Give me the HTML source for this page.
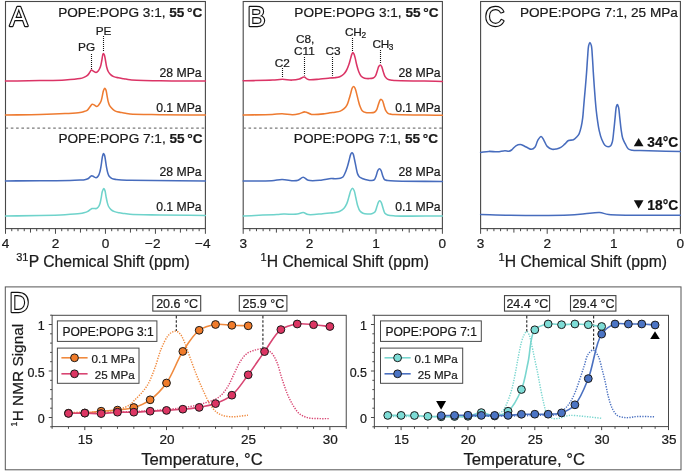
<!DOCTYPE html>
<html><head><meta charset="utf-8"><style>
html,body{margin:0;padding:0;background:#fff;width:685px;height:472px;overflow:hidden}
svg{display:block;will-change:transform;font-family:"Liberation Sans", sans-serif}
text:not(.ol){stroke:#1a1a1a;stroke-width:0.22px}
</style></head><body>
<svg width="685" height="472" viewBox="0 0 685 472">
<rect width="685" height="472" fill="#fff"/>
<rect x="5.5" y="1.5" width="199.9" height="227.1" fill="none" stroke="#484848" stroke-width="1.1"/>
<rect x="243.2" y="1.5" width="199.2" height="227.1" fill="none" stroke="#484848" stroke-width="1.1"/>
<rect x="480.6" y="1.5" width="199.8" height="227.1" fill="none" stroke="#484848" stroke-width="1.1"/>
<line x1="5.5" y1="228.6" x2="5.5" y2="233.8" stroke="#484848" stroke-width="1.0" />
<line x1="11.75" y1="228.6" x2="11.75" y2="231.2" stroke="#484848" stroke-width="1.0" />
<line x1="17.99" y1="228.6" x2="17.99" y2="231.2" stroke="#484848" stroke-width="1.0" />
<line x1="24.24" y1="228.6" x2="24.24" y2="231.2" stroke="#484848" stroke-width="1.0" />
<line x1="30.49" y1="228.6" x2="30.49" y2="232.6" stroke="#484848" stroke-width="1.0" />
<line x1="36.73" y1="228.6" x2="36.73" y2="231.2" stroke="#484848" stroke-width="1.0" />
<line x1="42.98" y1="228.6" x2="42.98" y2="231.2" stroke="#484848" stroke-width="1.0" />
<line x1="49.23" y1="228.6" x2="49.23" y2="231.2" stroke="#484848" stroke-width="1.0" />
<line x1="55.48" y1="228.6" x2="55.48" y2="233.8" stroke="#484848" stroke-width="1.0" />
<line x1="61.72" y1="228.6" x2="61.72" y2="231.2" stroke="#484848" stroke-width="1.0" />
<line x1="67.97" y1="228.6" x2="67.97" y2="231.2" stroke="#484848" stroke-width="1.0" />
<line x1="74.22" y1="228.6" x2="74.22" y2="231.2" stroke="#484848" stroke-width="1.0" />
<line x1="80.46" y1="228.6" x2="80.46" y2="232.6" stroke="#484848" stroke-width="1.0" />
<line x1="86.71" y1="228.6" x2="86.71" y2="231.2" stroke="#484848" stroke-width="1.0" />
<line x1="92.96" y1="228.6" x2="92.96" y2="231.2" stroke="#484848" stroke-width="1.0" />
<line x1="99.2" y1="228.6" x2="99.2" y2="231.2" stroke="#484848" stroke-width="1.0" />
<line x1="105.45" y1="228.6" x2="105.45" y2="233.8" stroke="#484848" stroke-width="1.0" />
<line x1="111.7" y1="228.6" x2="111.7" y2="231.2" stroke="#484848" stroke-width="1.0" />
<line x1="117.94" y1="228.6" x2="117.94" y2="231.2" stroke="#484848" stroke-width="1.0" />
<line x1="124.19" y1="228.6" x2="124.19" y2="231.2" stroke="#484848" stroke-width="1.0" />
<line x1="130.44" y1="228.6" x2="130.44" y2="232.6" stroke="#484848" stroke-width="1.0" />
<line x1="136.68" y1="228.6" x2="136.68" y2="231.2" stroke="#484848" stroke-width="1.0" />
<line x1="142.93" y1="228.6" x2="142.93" y2="231.2" stroke="#484848" stroke-width="1.0" />
<line x1="149.18" y1="228.6" x2="149.18" y2="231.2" stroke="#484848" stroke-width="1.0" />
<line x1="155.43" y1="228.6" x2="155.43" y2="233.8" stroke="#484848" stroke-width="1.0" />
<line x1="161.67" y1="228.6" x2="161.67" y2="231.2" stroke="#484848" stroke-width="1.0" />
<line x1="167.92" y1="228.6" x2="167.92" y2="231.2" stroke="#484848" stroke-width="1.0" />
<line x1="174.17" y1="228.6" x2="174.17" y2="231.2" stroke="#484848" stroke-width="1.0" />
<line x1="180.41" y1="228.6" x2="180.41" y2="232.6" stroke="#484848" stroke-width="1.0" />
<line x1="186.66" y1="228.6" x2="186.66" y2="231.2" stroke="#484848" stroke-width="1.0" />
<line x1="192.91" y1="228.6" x2="192.91" y2="231.2" stroke="#484848" stroke-width="1.0" />
<line x1="199.15" y1="228.6" x2="199.15" y2="231.2" stroke="#484848" stroke-width="1.0" />
<line x1="205.4" y1="228.6" x2="205.4" y2="233.8" stroke="#484848" stroke-width="1.0" />
<text x="5.5" y="247.7" font-size="13.6" text-anchor="middle" font-weight="normal" fill="#1a1a1a" >4</text>
<text x="55.48" y="247.7" font-size="13.6" text-anchor="middle" font-weight="normal" fill="#1a1a1a" >2</text>
<text x="105.45" y="247.7" font-size="13.6" text-anchor="middle" font-weight="normal" fill="#1a1a1a" >0</text>
<text x="152.73" y="247.7" font-size="13.6" text-anchor="middle" font-weight="normal" fill="#1a1a1a" >−2</text>
<text x="202.7" y="247.7" font-size="13.6" text-anchor="middle" font-weight="normal" fill="#1a1a1a" >−4</text>
<line x1="243.2" y1="228.6" x2="243.2" y2="233.8" stroke="#484848" stroke-width="1.0" />
<line x1="249.84" y1="228.6" x2="249.84" y2="231.2" stroke="#484848" stroke-width="1.0" />
<line x1="256.48" y1="228.6" x2="256.48" y2="231.2" stroke="#484848" stroke-width="1.0" />
<line x1="263.12" y1="228.6" x2="263.12" y2="231.2" stroke="#484848" stroke-width="1.0" />
<line x1="269.76" y1="228.6" x2="269.76" y2="231.2" stroke="#484848" stroke-width="1.0" />
<line x1="276.4" y1="228.6" x2="276.4" y2="232.6" stroke="#484848" stroke-width="1.0" />
<line x1="283.04" y1="228.6" x2="283.04" y2="231.2" stroke="#484848" stroke-width="1.0" />
<line x1="289.68" y1="228.6" x2="289.68" y2="231.2" stroke="#484848" stroke-width="1.0" />
<line x1="296.32" y1="228.6" x2="296.32" y2="231.2" stroke="#484848" stroke-width="1.0" />
<line x1="302.96" y1="228.6" x2="302.96" y2="231.2" stroke="#484848" stroke-width="1.0" />
<line x1="309.6" y1="228.6" x2="309.6" y2="233.8" stroke="#484848" stroke-width="1.0" />
<line x1="316.24" y1="228.6" x2="316.24" y2="231.2" stroke="#484848" stroke-width="1.0" />
<line x1="322.88" y1="228.6" x2="322.88" y2="231.2" stroke="#484848" stroke-width="1.0" />
<line x1="329.52" y1="228.6" x2="329.52" y2="231.2" stroke="#484848" stroke-width="1.0" />
<line x1="336.16" y1="228.6" x2="336.16" y2="231.2" stroke="#484848" stroke-width="1.0" />
<line x1="342.8" y1="228.6" x2="342.8" y2="232.6" stroke="#484848" stroke-width="1.0" />
<line x1="349.44" y1="228.6" x2="349.44" y2="231.2" stroke="#484848" stroke-width="1.0" />
<line x1="356.08" y1="228.6" x2="356.08" y2="231.2" stroke="#484848" stroke-width="1.0" />
<line x1="362.72" y1="228.6" x2="362.72" y2="231.2" stroke="#484848" stroke-width="1.0" />
<line x1="369.36" y1="228.6" x2="369.36" y2="231.2" stroke="#484848" stroke-width="1.0" />
<line x1="376" y1="228.6" x2="376" y2="233.8" stroke="#484848" stroke-width="1.0" />
<line x1="382.64" y1="228.6" x2="382.64" y2="231.2" stroke="#484848" stroke-width="1.0" />
<line x1="389.28" y1="228.6" x2="389.28" y2="231.2" stroke="#484848" stroke-width="1.0" />
<line x1="395.92" y1="228.6" x2="395.92" y2="231.2" stroke="#484848" stroke-width="1.0" />
<line x1="402.56" y1="228.6" x2="402.56" y2="231.2" stroke="#484848" stroke-width="1.0" />
<line x1="409.2" y1="228.6" x2="409.2" y2="232.6" stroke="#484848" stroke-width="1.0" />
<line x1="415.84" y1="228.6" x2="415.84" y2="231.2" stroke="#484848" stroke-width="1.0" />
<line x1="422.48" y1="228.6" x2="422.48" y2="231.2" stroke="#484848" stroke-width="1.0" />
<line x1="429.12" y1="228.6" x2="429.12" y2="231.2" stroke="#484848" stroke-width="1.0" />
<line x1="435.76" y1="228.6" x2="435.76" y2="231.2" stroke="#484848" stroke-width="1.0" />
<line x1="442.4" y1="228.6" x2="442.4" y2="233.8" stroke="#484848" stroke-width="1.0" />
<text x="243.2" y="247.7" font-size="13.6" text-anchor="middle" font-weight="normal" fill="#1a1a1a" >3</text>
<text x="309.6" y="247.7" font-size="13.6" text-anchor="middle" font-weight="normal" fill="#1a1a1a" >2</text>
<text x="376" y="247.7" font-size="13.6" text-anchor="middle" font-weight="normal" fill="#1a1a1a" >1</text>
<text x="442.4" y="247.7" font-size="13.6" text-anchor="middle" font-weight="normal" fill="#1a1a1a" >0</text>
<line x1="480.6" y1="228.6" x2="480.6" y2="233.8" stroke="#484848" stroke-width="1.0" />
<line x1="487.26" y1="228.6" x2="487.26" y2="231.2" stroke="#484848" stroke-width="1.0" />
<line x1="493.92" y1="228.6" x2="493.92" y2="231.2" stroke="#484848" stroke-width="1.0" />
<line x1="500.58" y1="228.6" x2="500.58" y2="231.2" stroke="#484848" stroke-width="1.0" />
<line x1="507.24" y1="228.6" x2="507.24" y2="231.2" stroke="#484848" stroke-width="1.0" />
<line x1="513.9" y1="228.6" x2="513.9" y2="232.6" stroke="#484848" stroke-width="1.0" />
<line x1="520.56" y1="228.6" x2="520.56" y2="231.2" stroke="#484848" stroke-width="1.0" />
<line x1="527.22" y1="228.6" x2="527.22" y2="231.2" stroke="#484848" stroke-width="1.0" />
<line x1="533.88" y1="228.6" x2="533.88" y2="231.2" stroke="#484848" stroke-width="1.0" />
<line x1="540.54" y1="228.6" x2="540.54" y2="231.2" stroke="#484848" stroke-width="1.0" />
<line x1="547.2" y1="228.6" x2="547.2" y2="233.8" stroke="#484848" stroke-width="1.0" />
<line x1="553.86" y1="228.6" x2="553.86" y2="231.2" stroke="#484848" stroke-width="1.0" />
<line x1="560.52" y1="228.6" x2="560.52" y2="231.2" stroke="#484848" stroke-width="1.0" />
<line x1="567.18" y1="228.6" x2="567.18" y2="231.2" stroke="#484848" stroke-width="1.0" />
<line x1="573.84" y1="228.6" x2="573.84" y2="231.2" stroke="#484848" stroke-width="1.0" />
<line x1="580.5" y1="228.6" x2="580.5" y2="232.6" stroke="#484848" stroke-width="1.0" />
<line x1="587.16" y1="228.6" x2="587.16" y2="231.2" stroke="#484848" stroke-width="1.0" />
<line x1="593.82" y1="228.6" x2="593.82" y2="231.2" stroke="#484848" stroke-width="1.0" />
<line x1="600.48" y1="228.6" x2="600.48" y2="231.2" stroke="#484848" stroke-width="1.0" />
<line x1="607.14" y1="228.6" x2="607.14" y2="231.2" stroke="#484848" stroke-width="1.0" />
<line x1="613.8" y1="228.6" x2="613.8" y2="233.8" stroke="#484848" stroke-width="1.0" />
<line x1="620.46" y1="228.6" x2="620.46" y2="231.2" stroke="#484848" stroke-width="1.0" />
<line x1="627.12" y1="228.6" x2="627.12" y2="231.2" stroke="#484848" stroke-width="1.0" />
<line x1="633.78" y1="228.6" x2="633.78" y2="231.2" stroke="#484848" stroke-width="1.0" />
<line x1="640.44" y1="228.6" x2="640.44" y2="231.2" stroke="#484848" stroke-width="1.0" />
<line x1="647.1" y1="228.6" x2="647.1" y2="232.6" stroke="#484848" stroke-width="1.0" />
<line x1="653.76" y1="228.6" x2="653.76" y2="231.2" stroke="#484848" stroke-width="1.0" />
<line x1="660.42" y1="228.6" x2="660.42" y2="231.2" stroke="#484848" stroke-width="1.0" />
<line x1="667.08" y1="228.6" x2="667.08" y2="231.2" stroke="#484848" stroke-width="1.0" />
<line x1="673.74" y1="228.6" x2="673.74" y2="231.2" stroke="#484848" stroke-width="1.0" />
<line x1="680.4" y1="228.6" x2="680.4" y2="233.8" stroke="#484848" stroke-width="1.0" />
<text x="480.6" y="247.7" font-size="13.6" text-anchor="middle" font-weight="normal" fill="#1a1a1a" >3</text>
<text x="547.2" y="247.7" font-size="13.6" text-anchor="middle" font-weight="normal" fill="#1a1a1a" >2</text>
<text x="613.8" y="247.7" font-size="13.6" text-anchor="middle" font-weight="normal" fill="#1a1a1a" >1</text>
<text x="680.4" y="247.7" font-size="13.6" text-anchor="middle" font-weight="normal" fill="#1a1a1a" >0</text>
<text x="16.2" y="266.9" font-size="15.7" fill="#1a1a1a"><tspan font-size="11" dy="-6">31</tspan><tspan dy="6" dx="0.3">P Chemical Shift (ppm)</tspan></text>
<text x="260.4" y="266.9" font-size="15.7" fill="#1a1a1a"><tspan font-size="11" dy="-6">1</tspan><tspan dy="6" dx="0.3">H Chemical Shift (ppm)</tspan></text>
<text x="498.4" y="266.9" font-size="15.7" fill="#1a1a1a"><tspan font-size="11" dy="-6">1</tspan><tspan dy="6" dx="0.3">H Chemical Shift (ppm)</tspan></text>
<text class="ol" x="9.8" y="25.5" font-size="27" fill="#fff" stroke="#111" stroke-width="2.3" paint-order="stroke" stroke-linejoin="round">A</text>
<text class="ol" x="247.4" y="26.1" font-size="27" fill="#fff" stroke="#111" stroke-width="2.3" paint-order="stroke" stroke-linejoin="round">B</text>
<text class="ol" x="485" y="25.8" font-size="27" fill="#fff" stroke="#111" stroke-width="2.3" paint-order="stroke" stroke-linejoin="round">C</text>
<text x="202.4" y="17.4" font-size="13.6" text-anchor="end" fill="#1a1a1a">POPE:POPG 3:1, <tspan font-weight="bold">55 °C</tspan></text>
<text x="202.6" y="143.3" font-size="13.6" text-anchor="end" fill="#1a1a1a">POPE:POPG 7:1, <tspan font-weight="bold">55 °C</tspan></text>
<text x="438.5" y="17.4" font-size="13.6" text-anchor="end" fill="#1a1a1a">POPE:POPG 3:1, <tspan font-weight="bold">55 °C</tspan></text>
<text x="438.0" y="143.3" font-size="13.6" text-anchor="end" fill="#1a1a1a">POPE:POPG 7:1, <tspan font-weight="bold">55 °C</tspan></text>
<text x="677.9" y="17.0" font-size="13.6" text-anchor="end" fill="#1a1a1a">POPE:POPG 7:1, 25 MPa</text>
<line x1="5.5" y1="128.1" x2="205.4" y2="128.1" stroke="#7a7a7a" stroke-width="1.3" stroke-dasharray="2.6 2.7"/>
<line x1="243.2" y1="128.1" x2="442.4" y2="128.1" stroke="#7a7a7a" stroke-width="1.3" stroke-dasharray="2.6 2.7"/>
<text x="201.6" y="77.3" font-size="12.2" text-anchor="end" font-weight="normal" fill="#1a1a1a" >28 MPa</text>
<text x="201.6" y="111.6" font-size="12.2" text-anchor="end" font-weight="normal" fill="#1a1a1a" >0.1 MPa</text>
<text x="201.6" y="176" font-size="12.2" text-anchor="end" font-weight="normal" fill="#1a1a1a" >28 MPa</text>
<text x="201.6" y="210.9" font-size="12.2" text-anchor="end" font-weight="normal" fill="#1a1a1a" >0.1 MPa</text>
<text x="440.6" y="77.3" font-size="12.2" text-anchor="end" font-weight="normal" fill="#1a1a1a" >28 MPa</text>
<text x="440.6" y="111.6" font-size="12.2" text-anchor="end" font-weight="normal" fill="#1a1a1a" >0.1 MPa</text>
<text x="440.6" y="176" font-size="12.2" text-anchor="end" font-weight="normal" fill="#1a1a1a" >28 MPa</text>
<text x="440.6" y="210.9" font-size="12.2" text-anchor="end" font-weight="normal" fill="#1a1a1a" >0.1 MPa</text>
<path d="M5.5,81.1 C17,80.93 29.42,80.8 40,80.6 C49,80.43 57.73,80.43 65,80 C70.64,79.67 76.65,79.27 80,78.6 C81.75,78.25 82.66,77.94 83.9,77.4 C85.13,76.87 86.41,76.26 87.4,75.4 C88.37,74.55 89.09,73.25 89.8,72.3 C90.39,71.51 90.77,70.25 91.4,70.1 C91.96,69.97 92.6,70.74 93.3,71.1 C94.14,71.53 95.24,72.59 96.1,72.5 C96.93,72.42 97.73,71.51 98.4,70.7 C99.22,69.71 99.86,68.29 100.4,66.8 C101.05,64.99 101.41,62.52 101.8,60.5 C102.16,58.64 102.33,56.35 102.7,55.1 C102.91,54.39 103.12,53.53 103.4,53.5 C103.66,53.47 104.03,54.11 104.3,54.7 C104.83,55.88 105.12,58.52 105.5,60.5 C105.89,62.55 106.11,64.87 106.6,66.8 C107.03,68.5 107.47,70.15 108.2,71.5 C108.85,72.7 109.67,73.74 110.6,74.6 C111.51,75.43 112.51,76.08 113.7,76.6 C115.06,77.19 116.76,77.46 118.4,77.8 C120.15,78.17 122.02,78.39 123.9,78.7 C125.88,79.02 127.18,79.42 130,79.7 C136.2,80.32 148.97,80.56 160,80.8 C173.57,81.09 190.27,81 205.4,81.1" fill="none" stroke="#db3466" stroke-width="1.55" stroke-linejoin="round" stroke-linecap="round"/>
<path d="M5.5,115 C17,114.83 29.43,114.77 40,114.5 C49,114.27 57.73,113.97 65,113.6 C70.64,113.31 76.64,113.14 80,112.6 C81.74,112.32 82.67,111.99 83.9,111.6 C85.03,111.24 86.16,111.08 87.1,110.4 C88.15,109.64 88.94,108.15 89.8,107.1 C90.6,106.13 91.27,104.55 92.1,104.3 C92.73,104.11 93.4,104.59 94.1,104.9 C94.95,105.27 95.96,106.59 96.8,106.5 C97.66,106.41 98.51,105.16 99.2,104.3 C99.92,103.4 100.51,102.4 101,101.2 C101.59,99.75 101.89,97.84 102.3,96.1 C102.72,94.3 102.99,92.01 103.5,90.6 C103.85,89.64 104.27,88.34 104.7,88.3 C105.07,88.26 105.57,89.09 105.9,89.8 C106.47,91.02 106.63,93.4 107,95.3 C107.4,97.33 107.68,99.72 108.2,101.6 C108.64,103.19 109.02,104.6 109.8,105.9 C110.58,107.21 111.8,108.45 112.9,109.4 C113.88,110.24 114.8,110.91 116,111.4 C117.38,111.97 119.21,112.08 120.8,112.4 C122.37,112.71 123.95,113.03 125.5,113.3 C127.01,113.56 127.83,113.81 130,114 C135.57,114.5 148.97,114.52 160,114.7 C173.57,114.92 190.27,114.97 205.4,115.1" fill="none" stroke="#ee7b31" stroke-width="1.55" stroke-linejoin="round" stroke-linecap="round"/>
<path d="M5.5,180.9 C17,180.87 28.9,180.85 40,180.8 C50.35,180.75 62.68,180.81 70,180.6 C74.23,180.48 77.29,180.28 80,180.1 C81.86,179.97 83.31,179.96 84.7,179.7 C85.85,179.49 86.92,179.26 87.8,178.8 C88.59,178.39 89.13,177.71 89.8,177.2 C90.46,176.71 91.12,175.87 91.8,175.8 C92.42,175.73 93.03,176.29 93.7,176.6 C94.46,176.95 95.34,177.9 96.1,177.8 C96.91,177.7 97.78,176.69 98.4,175.8 C99.16,174.71 99.56,173.09 100,171.5 C100.52,169.62 100.83,167.42 101.2,165.2 C101.61,162.74 101.85,159.52 102.3,157.4 C102.62,155.89 102.93,153.68 103.4,153.6 C103.72,153.54 104.2,154.4 104.5,155.1 C105.02,156.31 105.17,158.57 105.5,160.5 C105.87,162.7 106.19,165.39 106.6,167.6 C106.96,169.56 107.27,171.5 107.8,173.1 C108.24,174.42 108.64,175.67 109.4,176.6 C110.11,177.47 111.06,178.12 112.1,178.6 C113.23,179.12 114.58,179.26 116,179.5 C117.67,179.78 119.46,179.97 121.5,180.1 C124.02,180.27 125.76,180.23 130,180.3 C142.63,180.5 180.27,180.7 205.4,180.9" fill="none" stroke="#476cbd" stroke-width="1.55" stroke-linejoin="round" stroke-linecap="round"/>
<path d="M5.5,216 C17,215.83 29.42,215.75 40,215.5 C49,215.29 57.73,215.08 65,214.7 C70.64,214.4 76.63,214.07 80,213.6 C81.73,213.36 82.61,213.16 83.9,212.8 C85.21,212.43 86.69,212 87.8,211.4 C88.74,210.89 89.43,210.11 90.2,209.6 C90.86,209.17 91.43,208.68 92.1,208.5 C92.74,208.33 93.4,208.5 94.1,208.5 C94.86,208.5 95.79,208.76 96.5,208.5 C97.22,208.24 97.86,207.61 98.4,206.9 C99.07,206.01 99.56,204.72 100,203.4 C100.53,201.8 100.83,199.8 101.2,197.9 C101.6,195.88 101.77,193.29 102.3,191.6 C102.68,190.39 103.22,188.64 103.7,188.6 C104.09,188.57 104.57,189.58 104.9,190.4 C105.45,191.76 105.61,194.3 106,196.3 C106.41,198.37 106.81,200.76 107.3,202.6 C107.69,204.07 107.97,205.32 108.6,206.5 C109.21,207.65 110.03,208.75 111,209.6 C111.99,210.46 113.21,211.08 114.5,211.6 C115.92,212.17 117.56,212.47 119.2,212.8 C120.95,213.15 122.88,213.35 124.7,213.6 C126.48,213.85 127.5,214.11 130,214.3 C135.91,214.76 148.97,214.81 160,215 C173.57,215.23 190.27,215.33 205.4,215.5" fill="none" stroke="#6fd3cb" stroke-width="1.55" stroke-linejoin="round" stroke-linecap="round"/>
<path d="M243.2,80.8 C253.03,80.57 265.56,80.48 272.7,80.1 C276.78,79.88 279.09,79.3 282.3,79.3 C285.52,79.3 288.99,80.2 292,80.1 C294.64,80.01 297.24,79.59 299.4,79 C301.18,78.52 302.6,76.99 304.1,77.1 C305.57,77.21 306.45,79.14 308.3,79.6 C311.18,80.32 316.43,79.29 320.2,79 C323.63,78.74 327.28,78.22 330,78 C331.94,77.84 333.36,77.92 335,77.7 C336.62,77.48 338.34,77.29 339.8,76.7 C341.2,76.14 342.51,75.32 343.6,74.3 C344.72,73.26 345.58,71.95 346.4,70.5 C347.34,68.84 348.1,66.8 348.8,64.8 C349.54,62.68 350.12,60.08 350.7,58.1 C351.17,56.51 351.51,54.76 352,53.8 C352.28,53.24 352.59,52.61 352.9,52.6 C353.22,52.59 353.6,53.23 353.9,53.8 C354.42,54.76 354.78,56.5 355.2,58.1 C355.72,60.08 356.12,62.58 356.7,64.8 C357.29,67.04 357.88,69.5 358.7,71.5 C359.42,73.24 360.11,75.06 361.2,76.2 C362.14,77.18 363.32,77.79 364.6,78.2 C366,78.64 367.81,78.65 369.3,78.6 C370.66,78.55 372.14,78.52 373.2,78 C374.16,77.53 374.86,76.79 375.5,75.8 C376.35,74.49 376.81,72.18 377.4,70.5 C377.93,68.99 378.26,67.14 378.9,66.2 C379.31,65.6 379.85,64.96 380.3,65 C380.79,65.04 381.29,65.94 381.7,66.7 C382.32,67.85 382.65,69.87 383.2,71.5 C383.78,73.21 384.25,75.37 385.1,76.7 C385.77,77.74 386.47,78.51 387.5,79.1 C388.73,79.8 390.83,80.08 392.2,80.3 C393.25,80.47 393.5,80.43 395,80.5 C401.18,80.78 426.6,81.1 442.4,81.4" fill="none" stroke="#db3466" stroke-width="1.55" stroke-linejoin="round" stroke-linecap="round"/>
<path d="M243.2,115.1 C252.87,114.87 265.07,114.74 272.2,114.4 C276.37,114.2 278.75,113.66 282.1,113.7 C285.55,113.74 289.51,114.79 292.6,114.7 C295.06,114.63 297.09,114.18 299.2,113.7 C301.21,113.24 303.01,111.84 305,111.9 C307.14,111.97 308.97,113.99 311.6,114.4 C315.2,114.96 321.42,114.08 324.8,113.7 C326.94,113.46 328.28,113.05 330,112.8 C331.68,112.55 333.31,112.48 335,112.2 C336.75,111.91 338.76,111.72 340.3,111.1 C341.64,110.56 342.74,109.81 343.8,108.9 C344.92,107.93 345.97,106.82 346.8,105.4 C347.78,103.72 348.33,101.35 349,99.3 C349.67,97.25 350.23,95.08 350.8,93.1 C351.32,91.29 351.65,89.01 352.3,87.9 C352.68,87.25 353.16,86.59 353.6,86.6 C354.06,86.61 354.59,87.39 355,88.1 C355.65,89.23 356.01,91.29 356.5,93.1 C357.08,95.23 357.6,97.84 358.2,100.1 C358.77,102.24 359.27,104.44 360,106.3 C360.64,107.92 361.17,109.63 362.2,110.7 C363.13,111.66 364.43,112.25 365.7,112.6 C367.02,112.97 368.56,112.86 370,112.8 C371.46,112.73 373.26,112.8 374.4,112.2 C375.37,111.69 375.99,110.84 376.6,109.8 C377.41,108.44 377.79,106.18 378.4,104.5 C378.96,102.96 379.45,100.9 380.1,100.1 C380.44,99.68 380.83,99.37 381.2,99.4 C381.63,99.44 382.12,100 382.5,100.6 C383.14,101.62 383.47,103.76 384,105.4 C384.56,107.13 385.01,109.3 385.8,110.7 C386.42,111.79 387.1,112.72 388,113.3 C388.88,113.87 390,114 391.1,114.2 C392.31,114.42 392.98,114.41 395,114.5 C402.04,114.83 426.6,115.03 442.4,115.3" fill="none" stroke="#ee7b31" stroke-width="1.55" stroke-linejoin="round" stroke-linecap="round"/>
<path d="M243.2,181 C252.73,180.9 264.68,181.15 271.8,180.7 C276.07,180.43 278.47,179.53 282,179.5 C285.79,179.47 290.84,180.72 293.8,180.7 C295.59,180.69 296.65,180.67 298.1,180.2 C299.78,179.65 301.5,177.29 303.2,177.3 C304.9,177.31 306.12,179.71 308.3,180.3 C311.5,181.16 317.02,180.53 321,180.2 C324.57,179.9 328.51,178.77 331.1,178.6 C332.7,178.49 333.6,178.73 335,178.7 C336.63,178.66 338.88,178.69 340.3,178.3 C341.35,178.01 342.16,177.71 342.9,177 C343.83,176.11 344.42,174.5 345.1,173 C345.91,171.21 346.65,168.95 347.3,166.9 C347.95,164.88 348.43,162.87 349,160.8 C349.59,158.64 350.13,155.58 350.8,154.2 C351.15,153.48 351.5,152.74 351.9,152.7 C352.27,152.66 352.76,153.22 353.1,153.8 C353.72,154.84 353.97,157.08 354.4,159 C354.93,161.35 355.45,164.35 356,166.9 C356.52,169.31 356.86,172.08 357.6,173.9 C358.13,175.19 358.62,176.21 359.5,177 C360.41,177.82 361.75,178.21 363,178.7 C364.36,179.23 365.92,179.7 367.4,180 C368.85,180.3 370.54,180.64 371.8,180.5 C372.79,180.39 373.71,180.23 374.4,179.6 C375.27,178.81 375.65,177.12 376.2,175.7 C376.83,174.09 377.17,171.6 377.9,170.4 C378.37,169.64 378.98,168.79 379.5,168.8 C380.01,168.81 380.56,169.64 381,170.4 C381.71,171.6 382.07,174.09 382.7,175.7 C383.25,177.12 383.58,178.81 384.5,179.6 C385.3,180.28 386.33,180.27 387.6,180.5 C389.52,180.85 391.46,180.95 395,181.1 C403.95,181.49 426.6,181.3 442.4,181.4" fill="none" stroke="#476cbd" stroke-width="1.55" stroke-linejoin="round" stroke-linecap="round"/>
<path d="M243.2,215.9 C254.43,215.47 269.94,214.99 276.9,214.6 C280.03,214.42 281.05,214.2 283.7,214.1 C287.43,213.96 293.62,214.57 297.2,214.1 C299.63,213.78 301.3,212.38 303.2,212.5 C304.99,212.62 306.12,214.24 308.3,214.6 C311.83,215.18 318.71,214.02 322.7,213.7 C325.54,213.47 327.8,213.19 330,213 C331.82,212.84 333.4,212.86 335,212.6 C336.52,212.35 337.99,212.13 339.4,211.5 C340.93,210.81 342.58,209.78 343.8,208.5 C345.07,207.17 345.96,205.44 346.8,203.6 C347.74,201.53 348.31,198.86 349,196.6 C349.64,194.5 350.05,191.98 350.8,190.5 C351.3,189.52 351.95,188.29 352.5,188.3 C353.05,188.31 353.64,189.5 354.1,190.5 C354.85,192.13 355.23,195.09 355.8,197.5 C356.4,200.05 356.83,203.01 357.6,205.4 C358.27,207.49 358.92,209.74 360,211.1 C360.83,212.16 361.84,212.82 363,213.3 C364.27,213.83 365.93,213.93 367.4,214 C368.86,214.07 370.5,214.08 371.8,213.7 C372.97,213.36 374.08,212.95 374.9,212 C375.97,210.76 376.35,208.08 377,206.3 C377.57,204.74 377.98,202.84 378.6,201.9 C378.97,201.35 379.39,200.78 379.8,200.8 C380.26,200.82 380.78,201.57 381.2,202.3 C381.92,203.54 382.37,206.14 383,208 C383.61,209.8 383.95,212.11 384.9,213.3 C385.62,214.19 386.42,214.58 387.6,215 C389.41,215.64 391.45,215.68 395,215.9 C403.94,216.45 426.6,215.97 442.4,216" fill="none" stroke="#6fd3cb" stroke-width="1.55" stroke-linejoin="round" stroke-linecap="round"/>
<path d="M480.6,152.4 C483.33,152.07 486.02,151.5 488.8,151.4 C491.65,151.29 494.71,151.94 497.5,151.8 C500.1,151.67 502.92,150.69 505,150.7 C506.48,150.71 507.65,151.46 508.8,151.3 C509.83,151.16 510.63,150.67 511.6,150 C512.96,149.06 514.34,146.72 515.9,145.8 C517.27,145 518.89,144.44 520.3,144.5 C521.65,144.55 522.93,145.42 524.2,146 C525.49,146.59 526.76,147.43 528,148 C529.12,148.52 530.19,149.4 531.3,149.3 C532.55,149.18 534.08,148.12 535.1,146.9 C536.39,145.36 536.68,142.12 537.8,140.3 C538.74,138.77 540.07,136.46 541.1,136.5 C542.1,136.54 542.98,138.85 543.9,140.3 C545.02,142.06 545.73,144.87 547.2,146.4 C548.53,147.78 550.45,148.93 552.1,149.3 C553.55,149.63 555.06,149.21 556.5,148.9 C557.96,148.58 559.46,148.15 560.8,147.4 C562.21,146.61 563.43,145.33 564.7,144.2 C566,143.04 567.02,141.23 568.5,140.5 C569.93,139.8 572,140.43 573.4,139.8 C574.71,139.21 575.74,138.02 576.7,137 C577.63,136.02 578.42,135.15 579.1,133.8 C580.02,131.98 580.62,129.29 581.2,126.8 C581.85,124.03 582.31,120.99 582.7,117.9 C583.12,114.58 583.31,110.89 583.6,107.5 C583.88,104.26 584.11,101.28 584.4,98 C584.71,94.47 585.06,90.95 585.4,87 C585.79,82.41 586.23,77.06 586.6,72.1 C586.97,67.16 587.23,61.96 587.6,57.3 C587.93,53.12 588.07,48.02 588.7,45.4 C589.03,44.04 589.47,42.41 589.9,42.4 C590.34,42.39 590.93,44.02 591.3,45.4 C592.01,48.01 592.08,53.11 592.4,57.3 C592.76,61.96 592.98,67.16 593.3,72.1 C593.62,77.06 593.96,82.18 594.3,87 C594.62,91.56 594.95,96.11 595.3,100.3 C595.62,104.06 595.92,107.55 596.3,111 C596.66,114.24 597.03,117.21 597.5,120.4 C597.99,123.74 598.45,127.34 599.2,130.6 C599.91,133.69 600.73,136.91 601.8,139.5 C602.69,141.66 603.64,143.98 604.9,145.2 C605.84,146.11 607.08,146.75 608.1,146.8 C609,146.84 610.03,146.45 610.7,145.8 C611.52,145.01 611.85,143.64 612.3,142 C613.04,139.25 613.34,134.51 613.8,130.6 C614.28,126.48 614.66,122.03 615.1,117.9 C615.52,113.97 615.73,108.58 616.4,106.4 C616.69,105.46 617.07,104.49 617.4,104.5 C617.77,104.52 618.18,105.91 618.5,107.1 C619.12,109.44 619.37,114.25 619.8,117.9 C620.24,121.65 620.58,125.74 621.1,129.3 C621.56,132.46 621.89,135.61 622.7,138.2 C623.37,140.36 624.34,142.08 625.3,143.9 C626.24,145.68 627.08,147.94 628.4,149 C629.5,149.88 630.76,150.02 632.3,150.3 C634.41,150.69 636.43,150.49 640,150.6 C648.18,150.85 666.93,151.2 680.4,151.5" fill="none" stroke="#476cbd" stroke-width="1.55" stroke-linejoin="round" stroke-linecap="round"/>
<path d="M480.6,214.5 C490.37,214.77 498.4,215.17 509.9,215.3 C526.33,215.48 556.49,215.61 569.8,215 C576.47,214.69 579.81,214.12 584.8,213.7 C589.77,213.28 595.38,212.2 599.7,212.5 C603.1,212.74 604.23,213.98 608.7,214.5 C621.17,215.94 656.5,215.03 680.4,215.3" fill="none" stroke="#476cbd" stroke-width="1.55" stroke-linejoin="round" stroke-linecap="round"/>
<text x="103.5" y="34.6" font-size="11.8" text-anchor="middle" font-weight="normal" fill="#1a1a1a" >PE</text>
<line x1="103.5" y1="36" x2="103.5" y2="51.5" stroke="#111" stroke-width="1.1" stroke-dasharray="1 1"/>
<text x="86.6" y="51" font-size="11.8" text-anchor="middle" font-weight="normal" fill="#1a1a1a" >PG</text>
<line x1="91.5" y1="54" x2="91.5" y2="69" stroke="#111" stroke-width="1.1" stroke-dasharray="1 1"/>
<text x="282.2" y="66.7" font-size="11.8" text-anchor="middle" font-weight="normal" fill="#1a1a1a" >C2</text>
<line x1="282.5" y1="68" x2="282.5" y2="78" stroke="#111" stroke-width="1.1" stroke-dasharray="1 1"/>
<text x="305.2" y="43" font-size="11.8" text-anchor="middle" font-weight="normal" fill="#1a1a1a" >C8,</text>
<text x="304.4" y="55.2" font-size="11.8" text-anchor="middle" font-weight="normal" fill="#1a1a1a" >C11</text>
<line x1="304.5" y1="57" x2="304.5" y2="75.6" stroke="#111" stroke-width="1.1" stroke-dasharray="1 1"/>
<text x="333" y="55.2" font-size="11.8" text-anchor="middle" font-weight="normal" fill="#1a1a1a" >C3</text>
<line x1="332.5" y1="57" x2="332.5" y2="75.8" stroke="#111" stroke-width="1.1" stroke-dasharray="1 1"/>
<text x="345.1" y="36.1" font-size="11.8" fill="#1a1a1a" letter-spacing="-0.35">CH<tspan font-size="8.3" dy="2.2">2</tspan></text>
<line x1="352.5" y1="38" x2="352.5" y2="51.2" stroke="#111" stroke-width="1.1" stroke-dasharray="1 1"/>
<text x="372.5" y="48.0" font-size="11.8" fill="#1a1a1a" letter-spacing="-0.35">CH<tspan font-size="8.3" dy="2.2">3</tspan></text>
<line x1="380.5" y1="50" x2="380.5" y2="63.6" stroke="#111" stroke-width="1.1" stroke-dasharray="1 1"/>
<path d="M633.8,146.3 L638.65,138.1 L643.5,146.3 Z" fill="#111"/>
<text x="678.2" y="147" font-size="13.8" text-anchor="end" font-weight="bold" fill="#111" >34°C</text>
<path d="M633.8,200.3 L638.65,208.7 L643.5,200.3 Z" fill="#111"/>
<text x="678.2" y="209.5" font-size="13.8" text-anchor="end" font-weight="bold" fill="#111" >18°C</text>
<rect x="5.3" y="286.9" width="675.7" height="182.9" fill="none" stroke="#555" stroke-width="1.0"/>
<text class="ol" x="9.5" y="312.2" font-size="27" fill="#fff" stroke="#111" stroke-width="2.3" paint-order="stroke" stroke-linejoin="round">D</text>
<rect x="52.12" y="315.3" width="294.12" height="111.3" fill="none" stroke="#484848" stroke-width="1.0"/>
<line x1="50.12" y1="426.8" x2="52.12" y2="426.8" stroke="#484848" stroke-width="1.0" />
<line x1="48.72" y1="417.5" x2="52.12" y2="417.5" stroke="#484848" stroke-width="1.0" />
<line x1="50.12" y1="408.2" x2="52.12" y2="408.2" stroke="#484848" stroke-width="1.0" />
<line x1="50.12" y1="398.9" x2="52.12" y2="398.9" stroke="#484848" stroke-width="1.0" />
<line x1="50.12" y1="389.6" x2="52.12" y2="389.6" stroke="#484848" stroke-width="1.0" />
<line x1="50.12" y1="380.3" x2="52.12" y2="380.3" stroke="#484848" stroke-width="1.0" />
<line x1="48.72" y1="371" x2="52.12" y2="371" stroke="#484848" stroke-width="1.0" />
<line x1="50.12" y1="361.7" x2="52.12" y2="361.7" stroke="#484848" stroke-width="1.0" />
<line x1="50.12" y1="352.4" x2="52.12" y2="352.4" stroke="#484848" stroke-width="1.0" />
<line x1="50.12" y1="343.1" x2="52.12" y2="343.1" stroke="#484848" stroke-width="1.0" />
<line x1="50.12" y1="333.8" x2="52.12" y2="333.8" stroke="#484848" stroke-width="1.0" />
<line x1="48.72" y1="324.5" x2="52.12" y2="324.5" stroke="#484848" stroke-width="1.0" />
<line x1="50.12" y1="315.2" x2="52.12" y2="315.2" stroke="#484848" stroke-width="1.0" />
<line x1="52.12" y1="426.6" x2="52.12" y2="428.8" stroke="#484848" stroke-width="1.0" />
<line x1="68.46" y1="426.6" x2="68.46" y2="428.8" stroke="#484848" stroke-width="1.0" />
<line x1="84.8" y1="426.6" x2="84.8" y2="430.1" stroke="#484848" stroke-width="1.0" />
<line x1="101.14" y1="426.6" x2="101.14" y2="428.8" stroke="#484848" stroke-width="1.0" />
<line x1="117.48" y1="426.6" x2="117.48" y2="428.8" stroke="#484848" stroke-width="1.0" />
<line x1="133.82" y1="426.6" x2="133.82" y2="428.8" stroke="#484848" stroke-width="1.0" />
<line x1="150.16" y1="426.6" x2="150.16" y2="428.8" stroke="#484848" stroke-width="1.0" />
<line x1="166.5" y1="426.6" x2="166.5" y2="430.1" stroke="#484848" stroke-width="1.0" />
<line x1="182.84" y1="426.6" x2="182.84" y2="428.8" stroke="#484848" stroke-width="1.0" />
<line x1="199.18" y1="426.6" x2="199.18" y2="428.8" stroke="#484848" stroke-width="1.0" />
<line x1="215.52" y1="426.6" x2="215.52" y2="428.8" stroke="#484848" stroke-width="1.0" />
<line x1="231.86" y1="426.6" x2="231.86" y2="428.8" stroke="#484848" stroke-width="1.0" />
<line x1="248.2" y1="426.6" x2="248.2" y2="430.1" stroke="#484848" stroke-width="1.0" />
<line x1="264.54" y1="426.6" x2="264.54" y2="428.8" stroke="#484848" stroke-width="1.0" />
<line x1="280.88" y1="426.6" x2="280.88" y2="428.8" stroke="#484848" stroke-width="1.0" />
<line x1="297.22" y1="426.6" x2="297.22" y2="428.8" stroke="#484848" stroke-width="1.0" />
<line x1="313.56" y1="426.6" x2="313.56" y2="428.8" stroke="#484848" stroke-width="1.0" />
<line x1="329.9" y1="426.6" x2="329.9" y2="430.1" stroke="#484848" stroke-width="1.0" />
<line x1="346.24" y1="426.6" x2="346.24" y2="428.8" stroke="#484848" stroke-width="1.0" />
<text x="85.2" y="444.2" font-size="13.5" text-anchor="middle" font-weight="normal" fill="#1a1a1a" >15</text>
<text x="166.9" y="444.2" font-size="13.5" text-anchor="middle" font-weight="normal" fill="#1a1a1a" >20</text>
<text x="248.6" y="444.2" font-size="13.5" text-anchor="middle" font-weight="normal" fill="#1a1a1a" >25</text>
<text x="330.3" y="444.2" font-size="13.5" text-anchor="middle" font-weight="normal" fill="#1a1a1a" >30</text>
<text x="44.82" y="330" font-size="12.5" text-anchor="end" font-weight="normal" fill="#1a1a1a" >1</text>
<text x="44.82" y="376.5" font-size="12.5" text-anchor="end" font-weight="normal" fill="#1a1a1a" >0.5</text>
<text x="44.82" y="423" font-size="12.5" text-anchor="end" font-weight="normal" fill="#1a1a1a" >0</text>
<text x="201.98" y="464.6" font-size="16.7" text-anchor="middle" font-weight="normal" fill="#1a1a1a" >Temperature, °C</text>
<rect x="374.36" y="315.3" width="294.14" height="111.3" fill="none" stroke="#484848" stroke-width="1.0"/>
<line x1="372.36" y1="426.8" x2="374.36" y2="426.8" stroke="#484848" stroke-width="1.0" />
<line x1="370.96" y1="417.5" x2="374.36" y2="417.5" stroke="#484848" stroke-width="1.0" />
<line x1="372.36" y1="408.2" x2="374.36" y2="408.2" stroke="#484848" stroke-width="1.0" />
<line x1="372.36" y1="398.9" x2="374.36" y2="398.9" stroke="#484848" stroke-width="1.0" />
<line x1="372.36" y1="389.6" x2="374.36" y2="389.6" stroke="#484848" stroke-width="1.0" />
<line x1="372.36" y1="380.3" x2="374.36" y2="380.3" stroke="#484848" stroke-width="1.0" />
<line x1="370.96" y1="371" x2="374.36" y2="371" stroke="#484848" stroke-width="1.0" />
<line x1="372.36" y1="361.7" x2="374.36" y2="361.7" stroke="#484848" stroke-width="1.0" />
<line x1="372.36" y1="352.4" x2="374.36" y2="352.4" stroke="#484848" stroke-width="1.0" />
<line x1="372.36" y1="343.1" x2="374.36" y2="343.1" stroke="#484848" stroke-width="1.0" />
<line x1="372.36" y1="333.8" x2="374.36" y2="333.8" stroke="#484848" stroke-width="1.0" />
<line x1="370.96" y1="324.5" x2="374.36" y2="324.5" stroke="#484848" stroke-width="1.0" />
<line x1="372.36" y1="315.2" x2="374.36" y2="315.2" stroke="#484848" stroke-width="1.0" />
<line x1="374.36" y1="426.6" x2="374.36" y2="428.8" stroke="#484848" stroke-width="1.0" />
<line x1="387.73" y1="426.6" x2="387.73" y2="428.8" stroke="#484848" stroke-width="1.0" />
<line x1="401.1" y1="426.6" x2="401.1" y2="430.1" stroke="#484848" stroke-width="1.0" />
<line x1="414.47" y1="426.6" x2="414.47" y2="428.8" stroke="#484848" stroke-width="1.0" />
<line x1="427.84" y1="426.6" x2="427.84" y2="428.8" stroke="#484848" stroke-width="1.0" />
<line x1="441.21" y1="426.6" x2="441.21" y2="428.8" stroke="#484848" stroke-width="1.0" />
<line x1="454.58" y1="426.6" x2="454.58" y2="428.8" stroke="#484848" stroke-width="1.0" />
<line x1="467.95" y1="426.6" x2="467.95" y2="430.1" stroke="#484848" stroke-width="1.0" />
<line x1="481.32" y1="426.6" x2="481.32" y2="428.8" stroke="#484848" stroke-width="1.0" />
<line x1="494.69" y1="426.6" x2="494.69" y2="428.8" stroke="#484848" stroke-width="1.0" />
<line x1="508.06" y1="426.6" x2="508.06" y2="428.8" stroke="#484848" stroke-width="1.0" />
<line x1="521.43" y1="426.6" x2="521.43" y2="428.8" stroke="#484848" stroke-width="1.0" />
<line x1="534.8" y1="426.6" x2="534.8" y2="430.1" stroke="#484848" stroke-width="1.0" />
<line x1="548.17" y1="426.6" x2="548.17" y2="428.8" stroke="#484848" stroke-width="1.0" />
<line x1="561.54" y1="426.6" x2="561.54" y2="428.8" stroke="#484848" stroke-width="1.0" />
<line x1="574.91" y1="426.6" x2="574.91" y2="428.8" stroke="#484848" stroke-width="1.0" />
<line x1="588.28" y1="426.6" x2="588.28" y2="428.8" stroke="#484848" stroke-width="1.0" />
<line x1="601.65" y1="426.6" x2="601.65" y2="430.1" stroke="#484848" stroke-width="1.0" />
<line x1="615.02" y1="426.6" x2="615.02" y2="428.8" stroke="#484848" stroke-width="1.0" />
<line x1="628.39" y1="426.6" x2="628.39" y2="428.8" stroke="#484848" stroke-width="1.0" />
<line x1="641.76" y1="426.6" x2="641.76" y2="428.8" stroke="#484848" stroke-width="1.0" />
<line x1="655.13" y1="426.6" x2="655.13" y2="428.8" stroke="#484848" stroke-width="1.0" />
<line x1="668.5" y1="426.6" x2="668.5" y2="430.1" stroke="#484848" stroke-width="1.0" />
<text x="401.5" y="444.2" font-size="13.5" text-anchor="middle" font-weight="normal" fill="#1a1a1a" >15</text>
<text x="468.35" y="444.2" font-size="13.5" text-anchor="middle" font-weight="normal" fill="#1a1a1a" >20</text>
<text x="535.2" y="444.2" font-size="13.5" text-anchor="middle" font-weight="normal" fill="#1a1a1a" >25</text>
<text x="602.05" y="444.2" font-size="13.5" text-anchor="middle" font-weight="normal" fill="#1a1a1a" >30</text>
<text x="668.9" y="444.2" font-size="13.5" text-anchor="middle" font-weight="normal" fill="#1a1a1a" >35</text>
<text x="367.06" y="330" font-size="12.5" text-anchor="end" font-weight="normal" fill="#1a1a1a" >1</text>
<text x="367.06" y="376.5" font-size="12.5" text-anchor="end" font-weight="normal" fill="#1a1a1a" >0.5</text>
<text x="367.06" y="423" font-size="12.5" text-anchor="end" font-weight="normal" fill="#1a1a1a" >0</text>
<text x="524.23" y="464.6" font-size="16.7" text-anchor="middle" font-weight="normal" fill="#1a1a1a" >Temperature, °C</text>
<text transform="translate(22.6,375.2) rotate(-90)" x="0" y="0" font-size="15.4" text-anchor="middle" fill="#1a1a1a"><tspan font-size="8.5" dy="-5.4">1</tspan><tspan dy="5.4" dx="0.6">H NMR Signal</tspan></text>
<rect x="57.4" y="320.9" width="99.5" height="20.5" fill="none" stroke="#484848" stroke-width="1.0"/>
<text x="62.4" y="336.3" font-size="12" text-anchor="start" font-weight="normal" fill="#1a1a1a" >POPE:POPG 3:1</text>
<rect x="57.4" y="348.1" width="81.6" height="35.2" fill="none" stroke="#484848" stroke-width="1.0"/>
<line x1="61.4" y1="357.8" x2="87.6" y2="357.8" stroke="#f08a3e" stroke-width="1.6" />
<circle cx="74.5" cy="357.8" r="3.9" fill="#f07b2a" stroke="#1a1a1a" stroke-width="1"/>
<text x="134.7" y="363" font-size="11.6" text-anchor="end" font-weight="normal" fill="#1a1a1a" >0.1 MPa</text>
<line x1="61.4" y1="373.8" x2="87.6" y2="373.8" stroke="#d84572" stroke-width="1.6" />
<circle cx="74.5" cy="373.8" r="3.9" fill="#dc3563" stroke="#1a1a1a" stroke-width="1"/>
<text x="134.7" y="379" font-size="11.6" text-anchor="end" font-weight="normal" fill="#1a1a1a" >25 MPa</text>
<rect x="380.5" y="320.9" width="100.8" height="20.5" fill="none" stroke="#484848" stroke-width="1.0"/>
<text x="385.5" y="336.3" font-size="12" text-anchor="start" font-weight="normal" fill="#1a1a1a" >POPE:POPG 7:1</text>
<rect x="380.5" y="348.1" width="82.2" height="35.2" fill="none" stroke="#484848" stroke-width="1.0"/>
<line x1="384.5" y1="357.8" x2="410.7" y2="357.8" stroke="#79d6cf" stroke-width="1.6" />
<circle cx="397.6" cy="357.8" r="3.9" fill="#7ddcd6" stroke="#1a1a1a" stroke-width="1"/>
<text x="457.8" y="363" font-size="11.6" text-anchor="end" font-weight="normal" fill="#1a1a1a" >0.1 MPa</text>
<line x1="384.5" y1="373.8" x2="410.7" y2="373.8" stroke="#4a70c0" stroke-width="1.6" />
<circle cx="397.6" cy="373.8" r="3.9" fill="#4b74c4" stroke="#1a1a1a" stroke-width="1"/>
<text x="457.8" y="379" font-size="11.6" text-anchor="end" font-weight="normal" fill="#1a1a1a" >25 MPa</text>
<g fill="none" stroke-width="1.45" stroke-dasharray="1.3 1.3">
<path d="M68.5,412.5 C74,412.4 79.63,412.32 85,412.2 C90.12,412.09 94.75,412.2 100,411.8 C105.85,411.36 113.15,410.92 118.5,409.5 C122.88,408.34 127.18,406.59 130,404.7 C132.02,403.35 132.86,401.85 134.5,400.2 C136.49,398.19 138.97,395.97 141.1,393.5 C143.42,390.81 145.76,388.12 147.8,384.6 C150.32,380.25 152.38,374.58 154.5,369 C156.87,362.77 158.73,354.78 161.2,348.9 C163.24,344.04 165.58,338.9 167.8,336 C169.19,334.19 170.48,332.99 172,332.2 C173.34,331.5 174.96,330.93 176.3,331.2 C177.7,331.48 179.05,332.71 180.2,334 C181.63,335.61 182.55,337.75 183.8,340.5 C185.77,344.83 187.95,352 190.1,357.8 C192.28,363.7 194.5,369.89 196.8,375.6 C198.97,381 201.21,386.24 203.5,391.2 C205.65,395.84 207.64,400.78 210.1,404.5 C212.15,407.59 214.36,410.39 216.8,412.3 C218.88,413.94 221.04,414.95 223.5,415.7 C226.19,416.52 229.55,416.74 232.4,416.8 C235.03,416.86 237.44,416.46 240,416.2 C242.64,415.93 245.33,415.53 248,415.2" stroke="#f08a3e"/>
<path d="M68.5,413.2 C79,413.07 89.3,413.07 100,412.8 C111.12,412.52 122.77,412.06 134,411.5 C145.03,410.95 156.83,410.45 166.8,409.5 C175.22,408.7 183.39,407.68 190,406.5 C195.01,405.6 198.61,404.89 203.1,403.5 C208.08,401.95 214.36,400.3 218.5,397.4 C222.18,394.82 224.7,391.29 227.2,387.6 C229.85,383.68 231.6,378.79 233.8,374.4 C236,370.02 237.97,364.97 240.4,361.3 C242.41,358.26 244.3,355.51 246.9,353.6 C249.43,351.74 252.81,350.7 255.7,349.9 C258.31,349.18 260.9,348.41 263.4,348.8 C266.01,349.21 268.88,350.6 271,352.5 C273.35,354.61 274.86,357.74 276.5,361.3 C278.68,366.03 280.13,373.18 282,378.8 C283.76,384.09 285.44,389.47 287.4,394.1 C289.11,398.13 290.81,401.74 292.9,405.1 C294.87,408.27 296.84,411.66 299.5,413.8 C301.99,415.8 305.05,416.99 308.2,417.8 C311.58,418.67 315.56,418.47 319.2,418.6 C322.76,418.73 326.27,418.6 329.8,418.6" stroke="#d84572"/>
<path d="M387.7,416.5 C398.47,416.5 408.66,416.5 420,416.5 C432.62,416.5 447.62,416.6 460,416.5 C470.72,416.41 483.22,416.89 490,416 C493.55,415.53 495.68,415.1 498,414 C500.12,413 501.96,411.75 503.5,409.9 C505.31,407.73 506.39,404.57 507.7,401.4 C509.26,397.62 510.77,393.06 512,388.6 C513.3,383.88 514.18,378.91 515.2,373.8 C516.29,368.34 517.21,362.26 518.3,356.8 C519.32,351.69 520.36,345.99 521.5,342 C522.3,339.2 522.97,336.88 524,335 C524.81,333.52 525.92,331.37 526.8,331.4 C527.65,331.43 528.54,333.54 529.2,335 C530.06,336.89 530.43,339.22 531.1,342 C532.06,346.01 533.15,351.86 534.2,356.8 C535.25,361.76 536.36,366.57 537.4,371.7 C538.5,377.15 539.5,383.15 540.6,388.6 C541.64,393.73 542.63,398.98 543.8,403.5 C544.79,407.36 545.26,411.54 547,414.1 C548.36,416.1 550.33,417.61 552.3,418.3 C554.21,418.96 556.28,418.62 558.6,418.3 C561.58,417.89 564.82,415.9 568.6,415.5 C573.36,414.99 579.52,416.04 585,416.5 C590.52,416.97 596.07,417.7 601.6,418.3" stroke="#79d6cf"/>
<path d="M441,416.5 C454,416.43 466.92,416.42 480,416.3 C493.25,416.18 508.23,416.01 520,415.8 C529.31,415.63 538.37,415.43 545,415.2 C549.38,415.05 552.66,415.73 555.9,414.7 C558.95,413.73 561.62,411.57 564,409.5 C566.35,407.46 568.31,405.09 570.1,402.4 C572.06,399.46 573.54,396.07 575.1,392.4 C576.91,388.15 578.55,382.83 580.1,378.3 C581.53,374.12 582.75,370.23 584.1,366.2 C585.45,362.16 586.26,356.87 588.2,354.1 C589.58,352.14 591.61,349.93 593.2,350.1 C594.96,350.29 596.81,353.57 598.2,356.2 C600.09,359.77 601.08,365.69 602.3,370.2 C603.43,374.37 604.33,378.1 605.3,382.3 C606.34,386.81 607.08,391.91 608.3,396.4 C609.44,400.62 610.58,405.12 612.3,408.5 C613.71,411.28 615.17,414 617.3,415.5 C619.27,416.88 622.15,417.19 624.4,417.5 C626.36,417.77 628.02,417.64 630,417.5 C632.25,417.34 634.26,416.68 637.2,416.5 C641.8,416.22 649.07,416.7 655,416.8" stroke="#4a70c0"/>
</g>
<rect x="152.8" y="295.6" width="47.9" height="15.5" fill="#fff" stroke="#444" stroke-width="1.1"/>
<text x="177.05" y="308.2" font-size="12.5" text-anchor="middle" font-weight="normal" fill="#1a1a1a" >20.6 °C</text>
<line x1="176.3" y1="315.8" x2="176.3" y2="331" stroke="#222" stroke-width="1.1" stroke-dasharray="2.6 1.8"/>
<rect x="239.3" y="295.6" width="47.6" height="15.5" fill="#fff" stroke="#444" stroke-width="1.1"/>
<text x="263.4" y="308.2" font-size="12.5" text-anchor="middle" font-weight="normal" fill="#1a1a1a" >25.9 °C</text>
<line x1="262.91" y1="315.8" x2="262.91" y2="349" stroke="#222" stroke-width="1.1" stroke-dasharray="2.6 1.8"/>
<rect x="504.5" y="295.6" width="45.1" height="15.5" fill="#fff" stroke="#444" stroke-width="1.1"/>
<text x="527.35" y="308.2" font-size="12.5" text-anchor="middle" font-weight="normal" fill="#1a1a1a" >24.4 °C</text>
<line x1="526.78" y1="315.8" x2="526.78" y2="332" stroke="#222" stroke-width="1.1" stroke-dasharray="2.6 1.8"/>
<rect x="570.5" y="295.6" width="45.4" height="15.5" fill="#fff" stroke="#444" stroke-width="1.1"/>
<text x="593.5" y="308.2" font-size="12.5" text-anchor="middle" font-weight="normal" fill="#1a1a1a" >29.4 °C</text>
<line x1="593.63" y1="315.8" x2="593.63" y2="350" stroke="#222" stroke-width="1.1" stroke-dasharray="2.6 1.8"/>
<path d="M68.46,413.2 C73.91,413.13 79.36,413.33 84.8,413 C90.25,412.67 95.69,411.68 101.14,411.2 C106.58,410.72 112.05,410.71 117.48,410.1 C122.94,409.48 128.49,409.14 133.82,407.5 C139.39,405.78 145.02,403.47 150.16,399.8 C156.01,395.63 161.51,389.92 166.5,383 C172.64,374.47 176.94,360.64 182.84,351.4 C187.95,343.4 193.01,334.77 199.18,330.3 C204.16,326.7 209.99,325.31 215.52,324.5 C220.89,323.71 226.41,325.08 231.86,325.3 C237.31,325.52 242.75,325.63 248.2,325.8" fill="none" stroke="#f08a3e" stroke-width="1.6"/>
<path d="M68.46,413.4 C73.91,413.3 79.35,413.07 84.8,413.1 C90.25,413.13 95.7,413.75 101.14,413.6 C106.59,413.45 112.03,412.43 117.48,412.2 C122.92,411.97 128.38,412.37 133.82,412.2 C139.27,412.03 144.71,411.5 150.16,411.2 C155.61,410.9 161.06,410.73 166.5,410.4 C171.95,410.07 177.4,409.7 182.84,409.2 C188.29,408.7 193.76,408.33 199.18,407.4 C204.65,406.47 210.19,405.56 215.52,403.6 C221.1,401.55 226.81,399.32 231.86,395.2 C237.88,390.28 242.86,381.9 248.2,374.8 C253.76,367.4 259.05,359.2 264.54,351.6 C269.94,344.13 274.65,334.16 280.88,329.6 C285.83,325.98 291.7,324.8 297.22,324 C302.59,323.22 308.12,324.28 313.56,324.7 C319.01,325.12 324.45,325.9 329.9,326.5" fill="none" stroke="#d84572" stroke-width="1.6"/>
<circle cx="68.46" cy="413.2" r="3.9" fill="#f07b2a" stroke="#1a1a1a" stroke-width="1"/>
<circle cx="84.8" cy="413" r="3.9" fill="#f07b2a" stroke="#1a1a1a" stroke-width="1"/>
<circle cx="101.14" cy="411.2" r="3.9" fill="#f07b2a" stroke="#1a1a1a" stroke-width="1"/>
<circle cx="117.48" cy="410.1" r="3.9" fill="#f07b2a" stroke="#1a1a1a" stroke-width="1"/>
<circle cx="133.82" cy="407.5" r="3.9" fill="#f07b2a" stroke="#1a1a1a" stroke-width="1"/>
<circle cx="150.16" cy="399.8" r="3.9" fill="#f07b2a" stroke="#1a1a1a" stroke-width="1"/>
<circle cx="166.5" cy="383" r="3.9" fill="#f07b2a" stroke="#1a1a1a" stroke-width="1"/>
<circle cx="182.84" cy="351.4" r="3.9" fill="#f07b2a" stroke="#1a1a1a" stroke-width="1"/>
<circle cx="199.18" cy="330.3" r="3.9" fill="#f07b2a" stroke="#1a1a1a" stroke-width="1"/>
<circle cx="215.52" cy="324.5" r="3.9" fill="#f07b2a" stroke="#1a1a1a" stroke-width="1"/>
<circle cx="231.86" cy="325.3" r="3.9" fill="#f07b2a" stroke="#1a1a1a" stroke-width="1"/>
<circle cx="248.2" cy="325.8" r="3.9" fill="#f07b2a" stroke="#1a1a1a" stroke-width="1"/>
<circle cx="68.46" cy="413.4" r="3.9" fill="#dc3563" stroke="#1a1a1a" stroke-width="1"/>
<circle cx="84.8" cy="413.1" r="3.9" fill="#dc3563" stroke="#1a1a1a" stroke-width="1"/>
<circle cx="101.14" cy="413.6" r="3.9" fill="#dc3563" stroke="#1a1a1a" stroke-width="1"/>
<circle cx="117.48" cy="412.2" r="3.9" fill="#dc3563" stroke="#1a1a1a" stroke-width="1"/>
<circle cx="133.82" cy="412.2" r="3.9" fill="#dc3563" stroke="#1a1a1a" stroke-width="1"/>
<circle cx="150.16" cy="411.2" r="3.9" fill="#dc3563" stroke="#1a1a1a" stroke-width="1"/>
<circle cx="166.5" cy="410.4" r="3.9" fill="#dc3563" stroke="#1a1a1a" stroke-width="1"/>
<circle cx="182.84" cy="409.2" r="3.9" fill="#dc3563" stroke="#1a1a1a" stroke-width="1"/>
<circle cx="199.18" cy="407.4" r="3.9" fill="#dc3563" stroke="#1a1a1a" stroke-width="1"/>
<circle cx="215.52" cy="403.6" r="3.9" fill="#dc3563" stroke="#1a1a1a" stroke-width="1"/>
<circle cx="231.86" cy="395.2" r="3.9" fill="#dc3563" stroke="#1a1a1a" stroke-width="1"/>
<circle cx="248.2" cy="374.8" r="3.9" fill="#dc3563" stroke="#1a1a1a" stroke-width="1"/>
<circle cx="264.54" cy="351.6" r="3.9" fill="#dc3563" stroke="#1a1a1a" stroke-width="1"/>
<circle cx="280.88" cy="329.6" r="3.9" fill="#dc3563" stroke="#1a1a1a" stroke-width="1"/>
<circle cx="297.22" cy="324" r="3.9" fill="#dc3563" stroke="#1a1a1a" stroke-width="1"/>
<circle cx="313.56" cy="324.7" r="3.9" fill="#dc3563" stroke="#1a1a1a" stroke-width="1"/>
<circle cx="329.9" cy="326.5" r="3.9" fill="#dc3563" stroke="#1a1a1a" stroke-width="1"/>
<path d="M387.73,415.4 C392.19,415.4 396.64,415.38 401.1,415.4 C405.56,415.42 410.02,415.35 414.47,415.5 C418.93,415.65 423.38,416.08 427.84,416.3 C432.3,416.52 436.75,416.77 441.21,416.8 C445.67,416.83 450.12,416.58 454.58,416.5 C459.04,416.42 463.53,416.93 467.95,416.3 C472.45,415.65 476.86,412.65 481.32,412.6 C485.77,412.55 490.27,416.21 494.69,416 C499.18,415.79 504.09,414.42 508.06,411.2 C513.38,406.88 518.11,397.45 521.43,389.5 C524.92,381.13 525.96,371.55 528.12,362 C530.43,351.71 529.89,335.83 534.8,329.8 C538.07,325.78 543.61,324.82 548.17,324 C552.54,323.21 557.08,324.7 561.54,324.7 C566,324.7 570.45,324 574.91,324 C579.37,324 583.83,324.28 588.28,324.7 C592.75,325.12 597.19,325.9 601.65,326.5" fill="none" stroke="#79d6cf" stroke-width="1.6"/>
<path d="M441.21,415.6 C445.67,415.53 450.12,415.47 454.58,415.4 C459.04,415.33 463.49,415.2 467.95,415.2 C472.41,415.2 476.86,415.37 481.32,415.4 C485.78,415.43 490.23,415.4 494.69,415.4 C499.15,415.4 503.61,415.58 508.06,415.4 C512.52,415.22 516.97,414.5 521.43,414.3 C525.88,414.1 530.34,414.22 534.8,414.2 C539.26,414.18 543.72,414.42 548.17,414.2 C552.63,413.98 557.24,414.33 561.54,412.9 C566.18,411.36 570.96,409.05 574.91,404.8 C580.32,398.98 584.23,388.69 588.28,378.6 C593.37,365.91 595.34,343.17 601.65,334.1 C605.44,328.65 610.28,325.59 615.02,324 C619.25,322.58 623.93,324 628.39,324 C632.85,324 637.31,323.83 641.76,324 C646.22,324.17 650.67,324.67 655.13,325" fill="none" stroke="#4a70c0" stroke-width="1.6"/>
<circle cx="387.73" cy="415.4" r="3.9" fill="#7ddcd6" stroke="#1a1a1a" stroke-width="1"/>
<circle cx="401.1" cy="415.4" r="3.9" fill="#7ddcd6" stroke="#1a1a1a" stroke-width="1"/>
<circle cx="414.47" cy="415.5" r="3.9" fill="#7ddcd6" stroke="#1a1a1a" stroke-width="1"/>
<circle cx="427.84" cy="416.3" r="3.9" fill="#7ddcd6" stroke="#1a1a1a" stroke-width="1"/>
<circle cx="441.21" cy="416.8" r="3.9" fill="#7ddcd6" stroke="#1a1a1a" stroke-width="1"/>
<circle cx="454.58" cy="416.5" r="3.9" fill="#7ddcd6" stroke="#1a1a1a" stroke-width="1"/>
<circle cx="467.95" cy="416.3" r="3.9" fill="#7ddcd6" stroke="#1a1a1a" stroke-width="1"/>
<circle cx="481.32" cy="412.6" r="3.9" fill="#7ddcd6" stroke="#1a1a1a" stroke-width="1"/>
<circle cx="494.69" cy="416" r="3.9" fill="#7ddcd6" stroke="#1a1a1a" stroke-width="1"/>
<circle cx="508.06" cy="411.2" r="3.9" fill="#7ddcd6" stroke="#1a1a1a" stroke-width="1"/>
<circle cx="521.43" cy="389.5" r="3.9" fill="#7ddcd6" stroke="#1a1a1a" stroke-width="1"/>
<circle cx="534.8" cy="329.8" r="3.9" fill="#7ddcd6" stroke="#1a1a1a" stroke-width="1"/>
<circle cx="548.17" cy="324" r="3.9" fill="#7ddcd6" stroke="#1a1a1a" stroke-width="1"/>
<circle cx="561.54" cy="324.7" r="3.9" fill="#7ddcd6" stroke="#1a1a1a" stroke-width="1"/>
<circle cx="574.91" cy="324" r="3.9" fill="#7ddcd6" stroke="#1a1a1a" stroke-width="1"/>
<circle cx="588.28" cy="324.7" r="3.9" fill="#7ddcd6" stroke="#1a1a1a" stroke-width="1"/>
<circle cx="601.65" cy="326.5" r="3.9" fill="#7ddcd6" stroke="#1a1a1a" stroke-width="1"/>
<circle cx="441.21" cy="415.6" r="3.9" fill="#4b74c4" stroke="#1a1a1a" stroke-width="1"/>
<circle cx="454.58" cy="415.4" r="3.9" fill="#4b74c4" stroke="#1a1a1a" stroke-width="1"/>
<circle cx="467.95" cy="415.2" r="3.9" fill="#4b74c4" stroke="#1a1a1a" stroke-width="1"/>
<circle cx="481.32" cy="415.4" r="3.9" fill="#4b74c4" stroke="#1a1a1a" stroke-width="1"/>
<circle cx="494.69" cy="415.4" r="3.9" fill="#4b74c4" stroke="#1a1a1a" stroke-width="1"/>
<circle cx="508.06" cy="415.4" r="3.9" fill="#4b74c4" stroke="#1a1a1a" stroke-width="1"/>
<circle cx="521.43" cy="414.3" r="3.9" fill="#4b74c4" stroke="#1a1a1a" stroke-width="1"/>
<circle cx="534.8" cy="414.2" r="3.9" fill="#4b74c4" stroke="#1a1a1a" stroke-width="1"/>
<circle cx="548.17" cy="414.2" r="3.9" fill="#4b74c4" stroke="#1a1a1a" stroke-width="1"/>
<circle cx="561.54" cy="412.9" r="3.9" fill="#4b74c4" stroke="#1a1a1a" stroke-width="1"/>
<circle cx="574.91" cy="404.8" r="3.9" fill="#4b74c4" stroke="#1a1a1a" stroke-width="1"/>
<circle cx="588.28" cy="378.6" r="3.9" fill="#4b74c4" stroke="#1a1a1a" stroke-width="1"/>
<circle cx="601.65" cy="334.1" r="3.9" fill="#4b74c4" stroke="#1a1a1a" stroke-width="1"/>
<circle cx="615.02" cy="324" r="3.9" fill="#4b74c4" stroke="#1a1a1a" stroke-width="1"/>
<circle cx="628.39" cy="324" r="3.9" fill="#4b74c4" stroke="#1a1a1a" stroke-width="1"/>
<circle cx="641.76" cy="324" r="3.9" fill="#4b74c4" stroke="#1a1a1a" stroke-width="1"/>
<circle cx="655.13" cy="325" r="3.9" fill="#4b74c4" stroke="#1a1a1a" stroke-width="1"/>
<path d="M436.1,401 L446.1,401 L441.1,409.7 Z" fill="#000"/>
<path d="M650.2,339 L659.8,339 L655,331.2 Z" fill="#000"/>
</svg>
</body></html>
